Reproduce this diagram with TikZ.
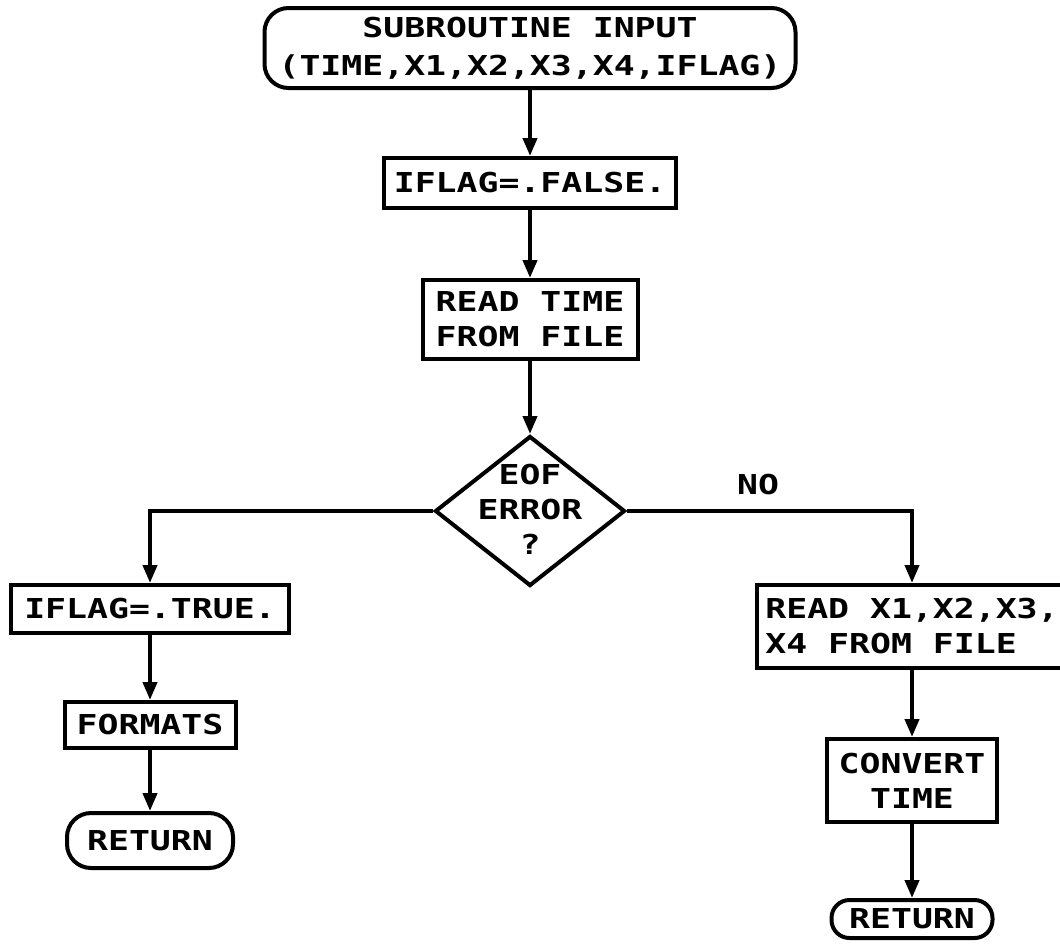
\documentclass[tikz,border=0pt]{standalone}
\usepackage{fontspec}
\newfontfamily\plotfont{DejaVu Sans Mono}[FakeStretch=1.27]
\usetikzlibrary{shapes.geometric, arrows.meta}

\begin{document}
\begin{tikzpicture}[x=0.5pt, y=-0.5pt, line width=2pt,
    font=\plotfont\bfseries\fontsize{13.7}{17.5}\selectfont,
    proc/.style={draw, rectangle, inner sep=0pt, align=center},
    term/.style={proc, rounded corners=12pt},
    decide/.style={draw, diamond, inner sep=0pt},
    flow/.style={-{Triangle[length=9pt, width=7pt]}}]
    \useasboundingbox (0, 0) rectangle (1060, 943);
    \clip (0, 0) rectangle (1060, 943);

    % main column
    \node[term, minimum width=265.5pt, minimum height=40pt] (start) at (530, 48)
        {SUBROUTINE INPUT\\[1.5pt](TIME,X1,X2,X3,X4,IFLAG)};
    \node[proc, minimum width=146pt, minimum height=25pt] (false) at (530, 183) {IFLAG=.FALSE.};
    \node[proc, minimum width=107.5pt, minimum height=39.5pt] (readtime) at (530, 319.5)
        {READ TIME\\FROM FILE};
    \node[decide, minimum width=95pt, minimum height=75pt] (err) at (530, 511) {};
    \node[align=center, inner sep=0pt] (errtxt) at (530, 509) {EOF\\ERROR\\?};

    % left branch
    \node[proc, minimum width=139pt, minimum height=24pt] (true) at (150, 609) {IFLAG=.TRUE.};
    \node[proc, minimum width=85.5pt, minimum height=23pt] (formats) at (150, 725) {FORMATS};
    \node[term, minimum width=83pt, minimum height=27.5pt] (retleft) at (150, 840.5) {RETURN};

    % right branch
    \node[proc, minimum width=155pt, minimum height=41.5pt, align=left] (readx) at (912, 626.5)
        {READ X1,X2,X3,\\X4 FROM FILE};
    \node[proc, minimum width=85pt, minimum height=41.5pt] (convert) at (912, 780.5) {CONVERT\\TIME};
    \node[term, minimum width=80.5pt, minimum height=19pt, rounded corners=9pt] (retright) at (912, 919) {RETURN};

    \draw[flow] (start) -- (false);
    \draw[flow] (false) -- (readtime);
    \draw[flow] (readtime) -- (err);
    \draw[flow] (err.west) -| (true.north);
    \draw[flow] (err.east) -| node[pos=0.23, above, inner sep=7pt] (no) {NO} (readx.north);
    \draw[flow] (true) -- (formats);
    \draw[flow] (formats) -- (retleft);
    \draw[flow] (readx) -- (convert);
    \draw[flow] (convert) -- (retright);
\end{tikzpicture}
\end{document}
